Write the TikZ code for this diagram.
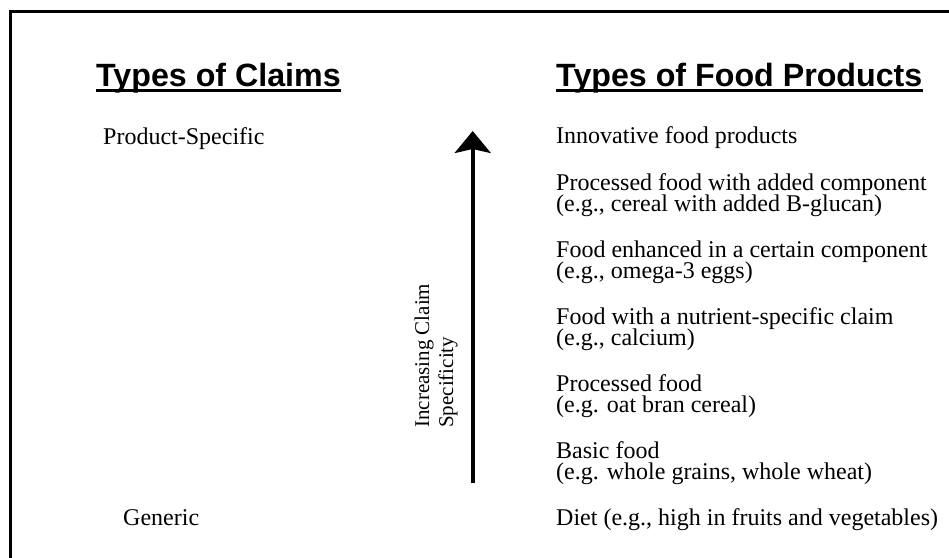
\documentclass[tikz,border=0pt]{standalone}
\usepackage{fontspec}
\setmainfont{Liberation Serif}
\newfontfamily\titlefont{Liberation Sans}
\usetikzlibrary{arrows.meta}
\newcommand\mytwolines[2]{\vtop{\baselineskip=21pt\lineskiplimit=-100pt\lineskip=0pt\hbox{#1}\hbox{#2}}}
\begin{document}
\begin{tikzpicture}[x=1pt,y=-1pt,
  body/.style={anchor=base west, inner sep=0pt, font=\fontsize{24}{21}\selectfont},
  ttl/.style={anchor=base west, inner sep=0pt, font=\titlefont\bfseries\fontsize{32.2}{32}\selectfont},
  side/.style={anchor=base west, inner sep=0pt, rotate=90, font=\fontsize{21}{21}\selectfont},
  uline/.style={line width=2.7pt},
  frameline/.style={line width=3pt},
  bigarrow/.style={line width=4pt, -{Stealth[length=22pt,width=36pt,inset=4pt]}}]
\useasboundingbox (0,0) rectangle (949,557);
\begin{scope}
\clip (0,0) rectangle (949,557);
\draw[frameline] (10.5,11.7) rectangle (980,590);
\end{scope}
% titles
\node[ttl] (tc) at (96,86) {Types of Claims};
\node[ttl] (tf) at (556,86) {Types of Food Products};
\draw[uline] ([yshift=-4.7pt]tc.base west) -- ([yshift=-4.7pt]tc.base east);
\draw[uline] ([yshift=-4.7pt]tf.base west) -- ([yshift=-4.7pt]tf.base east);
% left column
\node[body] (ps) at (103,144) {Product-Specific};
\node[body] (gen) at (123,525) {Generic};
% right column
\node[body] (in) at (556,143.5) {Innovative food products};
\node[body] (pa) at (556,190) {\mytwolines{Processed food with added component}{(e.g., cereal with added B-glucan)}};
\node[body] (fe) at (556,257) {\mytwolines{Food enhanced in a certain component}{(e.g., omega-3 eggs)}};
\node[body] (fn) at (556,324) {\mytwolines{Food with a nutrient-specific claim}{(e.g., calcium)}};
\node[body] (pf) at (556,391) {\mytwolines{Processed food}{(e.g. oat bran cereal)}};
\node[body] (bf) at (556,458) {\mytwolines{Basic food}{(e.g. whole grains, whole wheat)}};
\node[body] (di) at (556,525) {Diet (e.g., high in fruits and vegetables)};
% arrow and its label
\coordinate (abot) at (472.7,483);
\coordinate (atop) at (472.7,131);
\draw[bigarrow] (abot) -- (atop);
\node[side] (r1) at (429,428) {Increasing Claim};
\node[side] (r2) at (453,428) {Specificity};
\end{tikzpicture}
\end{document}
